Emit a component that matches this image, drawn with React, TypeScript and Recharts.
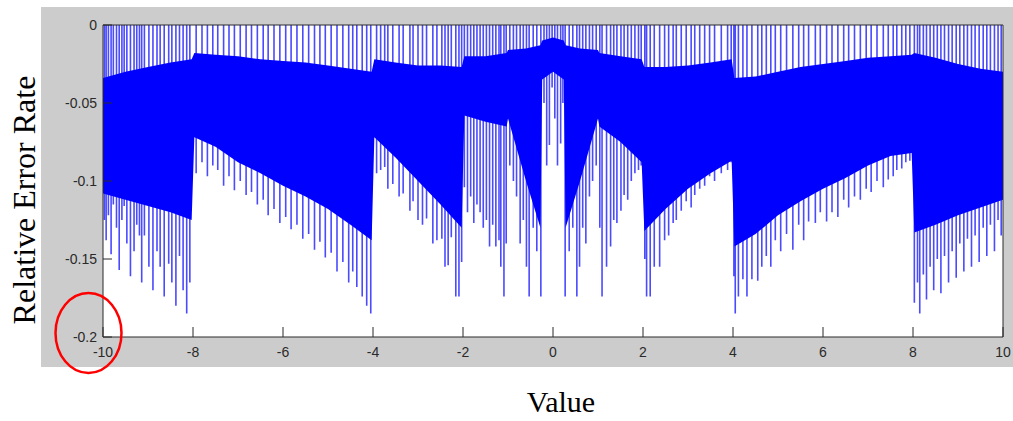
import { ComposedChart, Line, Area, XAxis, YAxis } from 'recharts'

const xTicks = [-10, -8, -6, -4, -2, 0, 2, 4, 6, 8, 10]
const yTicks = [0, -0.05, -0.1, -0.15, -0.2]

// solid part of the trace, where the aliased teeth merge into one blue mass
const bandX = [
  -10, -9.5, -9, -8.5, -8.03, -7.97, -7.5, -7, -6.5, -6, -5.5, -5, -4.5, -4.03,
  -3.97, -3.5, -3, -2.5, -2.03, -1.97, -1.5, -1.03, -1, -0.6, -0.28, -0.24, 0,
  0.24, 0.28, 0.6, 1, 1.03, 1.5, 1.97, 2.03, 2.5, 3, 3.5, 3.97, 4.03, 4.5, 5,
  5.5, 6, 6.5, 7, 7.5, 7.97, 8.03, 8.5, 9, 9.5, 10,
]
const bandTop = [
  -0.034, -0.03, -0.027, -0.024, -0.022, -0.018, -0.019, -0.02, -0.022, -0.023, -0.024, -0.026, -0.028, -0.03,
  -0.022, -0.024, -0.026, -0.026, -0.027, -0.02, -0.02, -0.018, -0.016, -0.015, -0.013, -0.01, -0.008,
  -0.01, -0.013, -0.015, -0.016, -0.018, -0.02, -0.022, -0.027, -0.027, -0.026, -0.024, -0.022, -0.034, -0.033, -0.03,
  -0.027, -0.025, -0.023, -0.021, -0.02, -0.019, -0.018, -0.021, -0.025, -0.028, -0.03,
]
const bandBottom = [
  -0.108, -0.112, -0.116, -0.12, -0.125, -0.072, -0.078, -0.088, -0.095, -0.103, -0.11, -0.118, -0.128, -0.138,
  -0.072, -0.085, -0.1, -0.115, -0.13, -0.058, -0.062, -0.065, -0.06, -0.1, -0.13, -0.035, -0.03,
  -0.035, -0.13, -0.1, -0.06, -0.065, -0.075, -0.088, -0.132, -0.118, -0.105, -0.095, -0.087, -0.142, -0.134, -0.122,
  -0.113, -0.105, -0.098, -0.09, -0.084, -0.082, -0.133, -0.128, -0.122, -0.117, -0.112,
]

// single teeth that stick out of the band: [value, lowest relative error]
const teethOuterLeft: [number, number][] = [
  [-9.97, -0.125], [-9.93, -0.138], [-9.88, -0.122], [-9.82, -0.147], [-9.77, -0.115],
  [-9.7, -0.13], [-9.64, -0.157], [-9.58, -0.125], [-9.53, -0.116], [-9.47, -0.14],
  [-9.39, -0.161], [-9.31, -0.145], [-9.25, -0.128], [-9.19, -0.135], [-9.14, -0.165],
  [-9.08, -0.135], [-8.98, -0.155], [-8.89, -0.17], [-8.8, -0.145], [-8.73, -0.155],
  [-8.64, -0.174], [-8.54, -0.153], [-8.47, -0.165], [-8.38, -0.18], [-8.3, -0.148],
  [-8.22, -0.17], [-8.14, -0.185], [-8.07, -0.165],
]
const teethLeft4to8: [number, number][] = [
  [-7.93, -0.095], [-7.8, -0.088], [-7.68, -0.097], [-7.56, -0.09], [-7.45, -0.093],
  [-7.32, -0.103], [-7.2, -0.097], [-7.08, -0.106], [-6.95, -0.1], [-6.82, -0.109],
  [-6.7, -0.107], [-6.57, -0.115], [-6.44, -0.112], [-6.33, -0.122], [-6.2, -0.118],
  [-6.07, -0.127], [-5.94, -0.123], [-5.82, -0.131], [-5.69, -0.128], [-5.56, -0.137],
  [-5.43, -0.134], [-5.3, -0.144], [-5.18, -0.139], [-5.06, -0.149], [-4.93, -0.146],
  [-4.8, -0.158], [-4.67, -0.152], [-4.54, -0.165], [-4.45, -0.158], [-4.36, -0.168],
  [-4.24, -0.174], [-4.14, -0.18], [-4.05, -0.185],
]
const teethLeft2to4: [number, number][] = [
  [-3.92, -0.095], [-3.83, -0.093], [-3.74, -0.091], [-3.67, -0.105], [-3.56, -0.102],
  [-3.42, -0.11], [-3.33, -0.108], [-3.18, -0.119], [-3.11, -0.113], [-3.0, -0.125],
  [-2.9, -0.128], [-2.81, -0.124], [-2.67, -0.14], [-2.58, -0.138], [-2.47, -0.137],
  [-2.4, -0.155], [-2.33, -0.154], [-2.26, -0.136], [-2.16, -0.174], [-2.09, -0.174],
  [-2.03, -0.152],
]
const teethCentre: [number, number][] = [
  [-1.97, -0.104], [-1.9, -0.12], [-1.83, -0.11], [-1.76, -0.127], [-1.69, -0.115],
  [-1.62, -0.12], [-1.55, -0.13], [-1.48, -0.125], [-1.41, -0.142], [-1.34, -0.128],
  [-1.27, -0.142], [-1.2, -0.138], [-1.16, -0.155], [-1.09, -0.174], [-1.04, -0.14],
  [-0.96, -0.09], [-0.88, -0.1], [-0.81, -0.11], [-0.73, -0.14], [-0.66, -0.125],
  [-0.59, -0.155], [-0.53, -0.174], [-0.44, -0.13], [-0.36, -0.145], [-0.27, -0.174],
  [-0.2, -0.05], [-0.14, -0.09], [-0.08, -0.077], [-0.02, -0.04], [0.04, -0.06],
  [0.1, -0.09], [0.17, -0.076], [0.22, -0.05],
  [0.27, -0.174], [0.36, -0.145], [0.44, -0.13], [0.53, -0.174], [0.59, -0.155],
  [0.66, -0.13], [0.73, -0.14], [0.81, -0.11], [0.88, -0.1], [0.96, -0.09],
  [1.04, -0.13], [1.09, -0.174], [1.19, -0.155], [1.28, -0.142], [1.35, -0.125],
  [1.42, -0.127], [1.51, -0.119], [1.58, -0.109], [1.66, -0.112], [1.74, -0.1],
  [1.82, -0.095], [1.9, -0.093], [1.96, -0.09],
]
const teethRight2to4: [number, number][] = [
  [2.04, -0.15], [2.08, -0.174], [2.16, -0.174], [2.25, -0.155], [2.37, -0.155],
  [2.48, -0.138], [2.57, -0.135], [2.67, -0.127], [2.74, -0.125], [2.85, -0.119],
  [2.96, -0.113], [3.07, -0.117], [3.15, -0.109], [3.26, -0.105], [3.37, -0.103],
  [3.48, -0.097], [3.59, -0.1], [3.74, -0.095], [3.88, -0.093], [3.96, -0.088],
]
const teethRight4to8: [number, number][] = [
  [4.02, -0.161], [4.05, -0.185], [4.12, -0.174], [4.22, -0.163], [4.31, -0.174],
  [4.42, -0.163], [4.55, -0.164], [4.64, -0.155], [4.74, -0.148], [4.84, -0.155],
  [4.94, -0.138], [5.06, -0.145], [5.19, -0.134], [5.33, -0.144], [5.46, -0.128],
  [5.57, -0.138], [5.68, -0.126], [5.83, -0.127], [5.94, -0.12], [6.08, -0.126],
  [6.2, -0.12], [6.33, -0.123], [6.46, -0.112], [6.57, -0.117], [6.7, -0.11],
  [6.83, -0.112], [6.96, -0.105], [7.07, -0.107], [7.2, -0.1], [7.34, -0.104],
  [7.45, -0.099], [7.56, -0.097], [7.64, -0.093], [7.75, -0.092], [7.84, -0.088],
  [7.93, -0.087],
]
const teethOuterRight: [number, number][] = [
  [8.03, -0.178], [8.1, -0.165], [8.15, -0.185], [8.23, -0.16], [8.3, -0.176],
  [8.38, -0.155], [8.46, -0.17], [8.54, -0.15], [8.62, -0.172], [8.7, -0.148],
  [8.79, -0.165], [8.87, -0.145], [8.96, -0.162], [9.04, -0.14], [9.13, -0.158],
  [9.21, -0.137], [9.3, -0.155], [9.38, -0.135], [9.47, -0.152], [9.56, -0.13],
  [9.64, -0.148], [9.72, -0.128], [9.81, -0.145], [9.89, -0.125], [9.96, -0.135],
]

const band = bandX.map((x, i) => ({ x, range: [bandBottom[i], bandTop[i]] }))

// every tooth drawn as its own vertical stroke from 0 down to its low point
const teeth = [
  ...teethOuterLeft, ...teethLeft4to8, ...teethLeft2to4, ...teethCentre,
  ...teethRight2to4, ...teethRight4to8, ...teethOuterRight,
].flatMap(([x, low]) => [
  { x, y: 0 },
  { x, y: low },
  { x, y: null },
])

const axisColor = '#2a2a2a'
const tickFont = { fill: axisColor, fontSize: 14, fontFamily: 'Arial, "Liberation Sans", sans-serif' }
const serif = '"Times New Roman", "Liberation Serif", serif'

export default function App() {
  return (
    <div style={{ position: 'absolute', left: 0, top: 0, width: 1013, height: 421, background: '#fff' }}>
      <div style={{ position: 'absolute', left: 41, top: 7, width: 972, height: 360, background: '#cccccc' }} />
      <div style={{ position: 'absolute', left: 103, top: 25, width: 900, height: 312, background: '#ffffff' }} />
      <div style={{ position: 'absolute', left: 0, top: 0 }}>
        <ComposedChart width={1013} height={421} margin={{ top: 20, right: 5, bottom: 54, left: 41 }}>
          <XAxis
            type="number"
            dataKey="x"
            domain={[-10, 10]}
            ticks={xTicks}
            allowDataOverflow
            height={30}
            tickSize={-10}
            tickMargin={20}
            tick={tickFont}
            stroke={axisColor}
          />
          <XAxis
            xAxisId="top"
            orientation="top"
            type="number"
            dataKey="x"
            domain={[-10, 10]}
            ticks={xTicks}
            height={5}
            tickSize={-10}
            tickFormatter={() => ''}
            stroke={axisColor}
          />
          <YAxis
            type="number"
            domain={[-0.2, 0]}
            ticks={yTicks}
            allowDataOverflow
            width={62}
            tickSize={-9}
            tickMargin={15}
            tick={tickFont}
            stroke={axisColor}
          />
          <YAxis
            yAxisId="right"
            orientation="right"
            type="number"
            domain={[-0.2, 0]}
            ticks={yTicks}
            width={5}
            tickSize={-9}
            tickFormatter={() => ''}
            stroke={axisColor}
          />
          <Line
            data={teeth}
            dataKey="y"
            type="linear"
            stroke="#4a4aff"
            strokeWidth={1.6}
            dot={false}
            activeDot={false}
            connectNulls={false}
            isAnimationActive={false}
          />
          <Area
            data={band}
            dataKey="range"
            type="linear"
            stroke="none"
            fill="#0000ff"
            fillOpacity={1}
            dot={false}
            activeDot={false}
            isAnimationActive={false}
            zIndex={450}
          />
        </ComposedChart>
      </div>
      <svg width={1013} height={421} style={{ position: 'absolute', left: 0, top: 0, pointerEvents: 'none' }}>
        <text
          x={0}
          y={0}
          transform="translate(35, 200) rotate(-90)"
          textAnchor="middle"
          fontFamily={serif}
          fontSize={32}
          fill="#000"
        >
          Relative Error Rate
        </text>
        <text x={561} y={412} textAnchor="middle" fontFamily={serif} fontSize={30} fill="#000">
          Value
        </text>
        <ellipse cx={88.5} cy={333} rx={33} ry={40} fill="none" stroke="#ff0000" strokeWidth={2.5} />
      </svg>
    </div>
  )
}
